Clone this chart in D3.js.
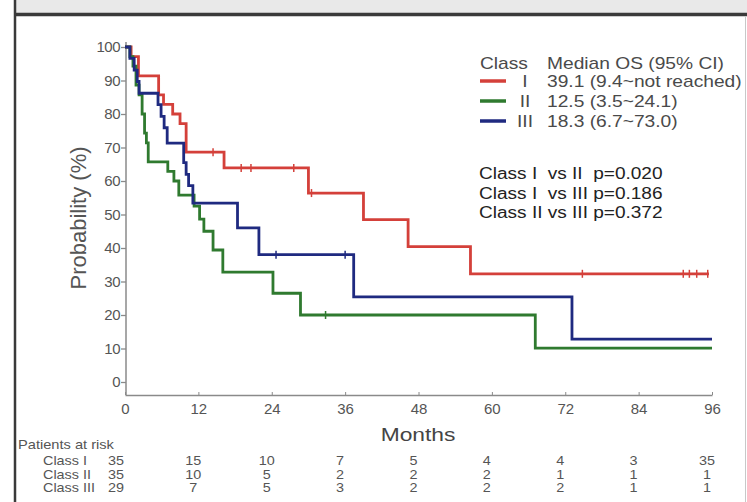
<!DOCTYPE html>
<html>
<head>
<meta charset="utf-8">
<script src="https://cdn.jsdelivr.net/npm/d3@7"></script>
<style>
  html, body { margin: 0; padding: 0; background: #fff; }
  svg { display: block; font-family: "Liberation Sans", Arial, sans-serif; }
</style>
</head>
<body>
<svg id="chart" width="747" height="502"></svg>
<script>
// Overall survival by class: Kaplan-Meier step curves (time in months, survival in %)
const xTicks = [0, 12, 24, 36, 48, 60, 72, 84, 96];
const yTicks = [0, 10, 20, 30, 40, 50, 60, 70, 80, 90, 100];

const classNames = ["I", "II", "III"];
const classColors = ["#d4403a", "#2f7a2f", "#1f2a80"];
const medianText = ["39.1 (9.4~not reached)", "12.5 (3.5~24.1)", "18.3 (6.7~73.0)"];
const pValueText = ["Class I  vs II  p=0.020", "Class I  vs III p=0.186", "Class II vs III p=0.372"];

// event times and survival after each drop
const classITimes = [0, 1, 2.2, 5.5, 6.3, 7.8, 9, 10, 16.2, 30, 39, 46.3, 56.5];
const classISurv  = [100, 97.1, 91.4, 85.7, 82.9, 80, 77.1, 68.6, 63.9, 56.4, 48.5, 40.4, 32.3];
const classIEnd = 95.5;
const classICensor = [14.4, 19, 20.6, 27.6, 30.5, 74.8, 91.3, 92.3, 93.5, 95.3];

const classIITimes = [0, 0.8, 1.3, 1.8, 2.3, 2.8, 3.2, 3.5, 3.8, 7, 8, 8.8, 11.3, 12.2, 12.9, 14.4, 16, 24.2, 28.7, 67.1];
const classIISurv  = [100, 97.1, 94.3, 88.6, 85.7, 80, 74.3, 71.4, 65.7, 62.9, 60, 55.8, 52.5, 48.6, 45, 39.4, 32.8, 26.5, 20, 10.1];
const classIIEnd = 96;
const classIICensor = [32.8];

const classIIITimes = [0, 0.8, 1.5, 2, 2.3, 5.4, 5.9, 6.4, 6.9, 9.6, 10, 10.4, 11.1, 18.4, 21.9, 37.4, 73.1];
const classIIISurv  = [100, 96.6, 93.1, 89.7, 86.2, 82.8, 79.3, 75.9, 71.3, 65.5, 62, 58.6, 53.4, 46, 38, 25.4, 12.8];
const classIIIEnd = 96;
const classIIICensor = [24.7, 36];

// numbers at risk
const riskLabels = ["Class I", "Class II", "Class III"];
const riskClassI   = ["35", "15", "10", "7", "5", "4", "4", "3", "35"];
const riskClassII  = ["35", "10", "5", "2", "2", "2", "1", "1", "1"];
const riskClassIII = ["29", "7", "5", "3", "2", "2", "2", "1", "1"];

const series = [
  { times: classITimes, surv: classISurv, end: classIEnd, censor: classICensor },
  { times: classIITimes, surv: classIISurv, end: classIIEnd, censor: classIICensor },
  { times: classIIITimes, surv: classIIISurv, end: classIIIEnd, censor: classIIICensor }
];
const riskRows = [riskClassI, riskClassII, riskClassIII];

const svg = d3.select("#chart");
const W = 747, H = 502;

// text drawn slightly wide, as in the exported figure
function wideText(parent, x, y, str, sx) {
  return parent.append("text")
    .attr("transform", `translate(${x},${y}) scale(${sx},1)`)
    .text(str);
}

// frame: grey title strip, heavy rule, left border
svg.append("rect").attr("x", 16).attr("y", 0).attr("width", W - 16).attr("height", 13).attr("fill", "#e9e9e9");
svg.append("line").attr("x1", 14).attr("x2", W).attr("y1", 14.5).attr("y2", 14.5)
  .attr("stroke", "#3a3a3a").attr("stroke-width", 3.5);
svg.append("line").attr("x1", 15).attr("x2", 15).attr("y1", 0).attr("y2", H)
  .attr("stroke", "#3a3a3a").attr("stroke-width", 2.5);
svg.append("line").attr("x1", 745.5).attr("x2", 745.5).attr("y1", 16).attr("y2", H)
  .attr("stroke", "#c8c8c8").attr("stroke-width", 1);

const x = d3.scaleLinear().domain([0, 96]).range([125, 712]);
const y = d3.scaleLinear().domain([0, 100]).range([382, 47]);
const axisColor = "#8a8a8a";
const textColor = "#555";

// y axis
const yAxis = svg.append("g").attr("transform", "translate(126,0)")
  .call(d3.axisLeft(y).tickValues(yTicks).tickSize(5).tickPadding(1).tickSizeOuter(0));
yAxis.select(".domain").remove();
svg.append("line").attr("x1", 126).attr("x2", 126).attr("y1", 42).attr("y2", 395)
  .attr("stroke", axisColor).attr("stroke-width", 1.5);
yAxis.selectAll("line").attr("stroke", axisColor).attr("stroke-width", 1.3);
yAxis.selectAll("text").attr("fill", textColor).attr("font-size", 15)
  .attr("font-family", "Liberation Sans, Arial, sans-serif").attr("letter-spacing", -0.5);

// x axis
const xAxis = svg.append("g").attr("transform", "translate(0,395)")
  .call(d3.axisBottom(x).tickValues(xTicks).tickSize(-3).tickPadding(8).tickSizeOuter(0));
xAxis.select(".domain").attr("stroke", axisColor).attr("stroke-width", 1.5);
xAxis.selectAll("line").attr("stroke", axisColor);
xAxis.selectAll("text").attr("fill", textColor).attr("font-size", 15)
  .attr("font-family", "Liberation Sans, Arial, sans-serif");

// axis titles
svg.append("text").attr("transform", "translate(86,218) rotate(-90)")
  .attr("text-anchor", "middle").attr("fill", textColor).attr("font-size", 22)
  .text("Probability (%)");
wideText(svg, 418, 441, "Months", 1.2).attr("text-anchor", "middle")
  .attr("fill", "#444").attr("font-size", 19);

// survival curves
const stepLine = d3.line().x(d => x(d[0])).y(d => y(d[1])).curve(d3.curveStepAfter);
series.forEach((s, i) => {
  const pts = s.times.map((t, k) => [t, s.surv[k]]);
  pts.push([s.end, s.surv[s.surv.length - 1]]);
  svg.append("path").datum(pts).attr("d", stepLine)
    .attr("fill", "none").attr("stroke", classColors[i]).attr("stroke-width", 2.8);
  // censor marks
  const survAt = t => {
    let v = s.surv[0];
    s.times.forEach((tt, k) => { if (tt <= t) v = s.surv[k]; });
    return v;
  };
  svg.selectAll(null).data(s.censor).enter().append("line")
    .attr("x1", d => x(d)).attr("x2", d => x(d))
    .attr("y1", d => y(survAt(d)) - 4).attr("y2", d => y(survAt(d)) + 4)
    .attr("stroke", classColors[i]).attr("stroke-width", 1.5);
});

// legend
const lg = svg.append("g").attr("font-size", 16).attr("fill", "#4a4a4a");
wideText(lg, 480, 69, "Class", 1.2);
wideText(lg, 547, 69, "Median OS (95% CI)", 1.2);
classNames.forEach((c, i) => {
  const yy = 81 + i * 20;
  lg.append("line").attr("x1", 480).attr("x2", 506).attr("y1", yy).attr("y2", yy)
    .attr("stroke", classColors[i]).attr("stroke-width", 3.5);
  wideText(lg, 525, yy + 6, c, 1.2).attr("text-anchor", "middle");
  wideText(lg, 547, yy + 6, medianText[i], 1.2);
});
pValueText.forEach((t, i) => {
  wideText(lg, 479, 179 + i * 19.5, t, 1.19).attr("fill", "#222")
    .attr("xml:space", "preserve").style("white-space", "pre");
});

// numbers at risk table
const rt = svg.append("g").attr("font-size", 12).attr("fill", "#555");
wideText(rt, 18, 449, "Patients at risk", 1.22);
riskLabels.forEach((lab, i) => {
  const yy = 465 + i * 13.5;
  wideText(rt, 43, yy, lab, 1.2);
  riskRows[i].forEach((v, k) => {
    const xx = k === 0 ? 116 : x(xTicks[k]) - 5;
    wideText(rt, xx, yy, v, 1.2).attr("text-anchor", "middle");
  });
});
</script>
</body>
</html>
